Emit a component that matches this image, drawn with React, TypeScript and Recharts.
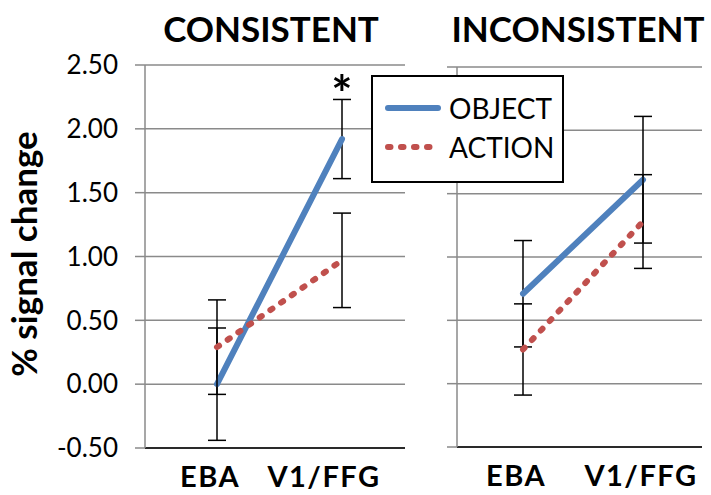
import React from "react";
import { LineChart, Line, XAxis, YAxis, CartesianGrid, ErrorBar, ReferenceDot, Legend } from "recharts";

const regions = ["EBA", "V1/FFG"];
const seriesNames = ["OBJECT", "ACTION"];
const yTicks = [-0.5, 0, 0.5, 1, 1.5, 2, 2.5];

const consistentObject = [0.0, 1.92];
const consistentObjectErr = [0.44, 0.31];
const consistentAction = [0.29, 0.97];
const consistentActionErr = [0.37, 0.37];
const consistentSig = ["", "*"];

const inconsistentObject = [0.71, 1.61];
const inconsistentObjectErr = [0.42, 0.5];
const inconsistentAction = [0.27, 1.28];
const inconsistentActionErr = [0.36, 0.37];
const inconsistentSig = ["", ""];

const BLUE = "#4F81BD";
const RED = "#C0504D";
const GRID = "#8a8a8a";
const FONT = "Lato, 'Open Sans', sans-serif";
const DOTS = "2.5 10.5";

function buildRows(obj: number[], objErr: number[], act: number[], actErr: number[], sig: string[]) {
  return regions.map((region, i) => ({
    region,
    object: obj[i],
    objectErr: objErr[i],
    objectTop: obj[i] + objErr[i],
    action: act[i],
    actionErr: actErr[i],
    sig: sig[i],
  }));
}

const consistentRows = buildRows(consistentObject, consistentObjectErr, consistentAction, consistentActionErr, consistentSig);
const inconsistentRows = buildRows(inconsistentObject, inconsistentObjectErr, inconsistentAction, inconsistentActionErr, inconsistentSig);

const regionTick = (shift: number[]) => (props: any) => {
  const { x, y, payload } = props;
  const i = regions.indexOf(payload.value);
  return (
    <text
      x={x + shift[i]}
      y={y + 39}
      textAnchor="middle"
      fontFamily={FONT}
      fontWeight={700}
      fontSize={29}
      letterSpacing={1.5}
      fill="#000"
    >
      {payload.value}
    </text>
  );
};

const LegendBox = () => (
  <div
    style={{
      boxSizing: "border-box",
      width: 193,
      height: 108,
      border: "2px solid #000",
      background: "#fff",
    }}
  >
    <svg width={189} height={104}>
      {seriesNames.map((name, i) => {
        const cy = 31 + i * 39;
        return (
          <g key={name}>
            <line
              x1={15}
              x2={65}
              y1={cy}
              y2={cy}
              stroke={i === 0 ? BLUE : RED}
              strokeWidth={6}
              strokeLinecap="round"
              strokeDasharray={i === 0 ? undefined : DOTS}
            />
            <text x={76} y={cy} dominantBaseline="central" fontFamily={FONT} fontSize={28} fill="#000">
              {name}
            </text>
          </g>
        );
      })}
    </svg>
  </div>
);

function Panel({
  rows,
  width,
  axisWidth,
  top,
  plotHeight,
  right,
  pad,
  shift,
  showLabels,
  showLegend,
}: {
  rows: ReturnType<typeof buildRows>;
  width: number;
  axisWidth: number;
  top: number;
  plotHeight: number;
  right: number;
  pad: { left: number; right: number };
  shift: number[];
  showLabels: boolean;
  showLegend: boolean;
}) {
  const starRow = rows.find((r) => r.sig);
  return (
    <LineChart width={width} height={495} data={rows} margin={{ top, right, bottom: 0, left: 0 }}>
      <CartesianGrid vertical={false} stroke={GRID} strokeWidth={1.5} />
      <XAxis
        dataKey="region"
        height={495 - top - plotHeight}
        padding={pad}
        tickLine={false}
        tickSize={0}
        tickMargin={0}
        axisLine={{ stroke: "#000", strokeWidth: 1.5 }}
        tick={regionTick(shift)}
        interval={0}
      />
      <XAxis
        xAxisId="top"
        orientation="top"
        dataKey="region"
        height={0}
        padding={pad}
        tick={false}
        tickLine={false}
        axisLine={{ stroke: "#000", strokeWidth: 1.5 }}
      />
      <YAxis
        domain={[-0.5, 2.5]}
        ticks={yTicks}
        width={axisWidth}
        tickSize={10}
        tickMargin={17}
        interval={0}
        tickFormatter={(v: number) => (showLabels ? v.toFixed(2) : "")}
        tick={{ fontFamily: FONT, fontSize: 26, fill: "#000" }}
        tickLine={{ stroke: GRID, strokeWidth: 1.5 }}
        axisLine={{ stroke: GRID, strokeWidth: 1.5 }}
        label={
          showLabels
            ? {
                content: () => (
                  <text
                    transform="translate(37 254) rotate(-90)"
                    textAnchor="middle"
                    fontFamily={FONT}
                    fontWeight={700}
                    fontSize={35}
                    fill="#000"
                  >
                    % signal change
                  </text>
                ),
              }
            : undefined
        }
      />
      <YAxis
        yAxisId="right"
        orientation="right"
        domain={[-0.5, 2.5]}
        width={0}
        tick={false}
        tickLine={false}
        axisLine={{ stroke: "#000", strokeWidth: 1.5 }}
      />
      <Line
        dataKey="object"
        name={seriesNames[0]}
        stroke={BLUE}
        strokeWidth={6}
        strokeLinecap="round"
        dot={false}
        activeDot={false}
        isAnimationActive={false}
      >
        <ErrorBar dataKey="objectErr" direction="y" width={9} stroke="#000" strokeWidth={1.5} />
      </Line>
      <Line
        dataKey="action"
        name={seriesNames[1]}
        stroke={RED}
        strokeWidth={6}
        strokeLinecap="round"
        strokeDasharray={DOTS}
        dot={false}
        activeDot={false}
        isAnimationActive={false}
      >
        <ErrorBar dataKey="actionErr" direction="y" width={9} stroke="#000" strokeWidth={1.5} />
      </Line>
      {starRow && (
        <ReferenceDot
          x={starRow.region}
          y={starRow.objectTop}
          r={0}
          stroke="none"
          label={{ value: starRow.sig, position: "top", offset: -13, fontFamily: FONT, fontWeight: 700, fontSize: 50, fill: "#000" }}
        />
      )}
      {showLegend && (
        <Legend
          layout="vertical"
          align="center"
          verticalAlign="middle"
          wrapperStyle={{ left: -49, top: 75, width: 193, height: 108 }}
          content={LegendBox}
        />
      )}
    </LineChart>
  );
}

export default function App() {
  return (
    <div style={{ position: "fixed", left: 0, top: 0, width: 711, height: 495, background: "#fff", overflow: "hidden" }}>
      <svg width={711} height={60} style={{ position: "absolute", left: 0, top: 0 }}>
        <text x={271} y={42} textAnchor="middle" fontFamily={FONT} fontWeight={700} fontSize={35} fill="#000">
          CONSISTENT
        </text>
        <text x={578} y={42} textAnchor="middle" fontFamily={FONT} fontWeight={700} fontSize={35} fill="#000">
          INCONSISTENT
        </text>
      </svg>
      <div style={{ position: "absolute", left: 0, top: 0 }}>
        <Panel
          rows={consistentRows}
          width={420}
          axisWidth={145}
          top={65}
          plotHeight={383}
          right={15}
          pad={{ left: 72, right: 63 }}
          shift={[-7, -18]}
          showLabels
          showLegend={false}
        />
      </div>
      <div style={{ position: "absolute", left: 420, top: 0 }}>
        <Panel
          rows={inconsistentRows}
          width={291}
          axisWidth={37}
          top={67}
          plotHeight={380}
          right={9}
          pad={{ left: 66, right: 59 }}
          shift={[-7, -2]}
          showLabels={false}
          showLegend
        />
      </div>
    </div>
  );
}
